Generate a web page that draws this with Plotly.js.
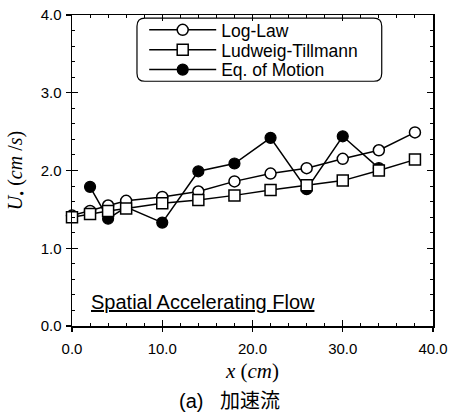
<!DOCTYPE html>
<html>
<head>
<meta charset="utf-8">
<script src="https://cdn.plot.ly/plotly-3.0.1.min.js"></script>
<style>
  html, body { margin: 0; padding: 0; background: #fff; }
  #chart { width: 451px; height: 416px; }
</style>
</head>
<body>
<div id="chart"></div>
<script>
// Friction velocity U* along the flume, spatially accelerating flow
const xLog = [0, 2, 4, 6, 10, 14, 18, 22, 26, 30, 34, 38];
const uLogLaw = [1.42, 1.48, 1.55, 1.61, 1.66, 1.73, 1.86, 1.96, 2.03, 2.15, 2.26, 2.49];

const xLT = [0, 2, 4, 6, 10, 14, 18, 22, 26, 30, 34, 38];
const uLudweig = [1.40, 1.44, 1.48, 1.51, 1.58, 1.62, 1.68, 1.75, 1.81, 1.87, 2.00, 2.14];

const xEq = [2, 4, 6, 10, 14, 18, 22, 26, 30, 34];
const uEqMotion = [1.79, 1.38, 1.53, 1.33, 1.99, 2.09, 2.42, 1.76, 2.44, 2.03];

const xTicks = [0, 10, 20, 30, 40];
const xTickText = ['0.0', '10.0', '20.0', '30.0', '40.0'];
const yTicks = [0, 1, 2, 3, 4];
const yTickText = ['0.0', '1.0', '2.0', '3.0', '4.0'];

const sans = 'Liberation Sans, Arial, sans-serif';
const serif = 'Liberation Serif, Times New Roman, serif';

const lineStyle = { color: '#000', width: 1.5 };

const traces = [
  {
    name: 'Eq. of Motion', x: xEq, y: uEqMotion, mode: 'lines+markers',
    line: lineStyle, legend: 'legend3', cliponaxis: false,
    marker: { symbol: 'circle', size: 11, color: '#000', line: { color: '#000', width: 1.2 } }
  },
  {
    name: 'Log-Law', x: xLog, y: uLogLaw, mode: 'lines+markers',
    line: lineStyle, legend: 'legend', cliponaxis: false,
    marker: { symbol: 'circle', size: 11, color: '#fff', line: { color: '#000', width: 1.5 } }
  },
  {
    name: 'Ludweig-Tillmann', x: xLT, y: uLudweig, mode: 'lines+markers',
    line: lineStyle, legend: 'legend2', cliponaxis: false,
    marker: { symbol: 'square', size: 11, color: '#fff', line: { color: '#000', width: 1.5 } }
  },
  // empty trace that carries the outer half of the crossing major ticks
  { x: [], y: [], xaxis: 'x2', yaxis: 'y2', showlegend: false, hoverinfo: 'skip' }
];

// one legend per row so the rows sit at fixed heights inside the frame
function legendRow(yPaper) {
  return {
    x: 0.200, y: yPaper, xanchor: 'left', yanchor: 'middle',
    bgcolor: 'rgba(0,0,0,0)', borderwidth: 0,
    font: { family: sans, size: 17.5, color: '#000' },
    itemwidth: 67
  };
}

// rounded legend frame, in paper coordinates
const L = 0.180, R = 0.858, T = 0.990, B = 0.787;
const rx = 0.022, ry = 0.026;
const framePath =
  `M${L + rx},${T} L${R - rx},${T} Q${R},${T} ${R},${T - ry} ` +
  `L${R},${B + ry} Q${R},${B} ${R - rx},${B} L${L + rx},${B} ` +
  `Q${L},${B} ${L},${B + ry} L${L},${T - ry} Q${L},${T} ${L + rx},${T} Z`;

const layout = {
  width: 451, height: 416,
  margin: { l: 72, r: 18, t: 13, b: 90 },
  paper_bgcolor: '#fff', plot_bgcolor: '#fff',
  font: { family: sans, color: '#000', size: 15 },
  showlegend: true,
  legend: legendRow(0.952),
  legend2: legendRow(0.888),
  legend3: legendRow(0.824),
  xaxis: {
    range: [0, 40], tickvals: xTicks, ticktext: xTickText,
    showgrid: false, zeroline: false,
    showline: true, linecolor: '#000', linewidth: 1.5, mirror: 'ticks',
    ticks: 'inside', ticklen: 6, tickwidth: 1.2, tickcolor: '#000',
    minor: { dtick: 2, ticks: 'inside', ticklen: 3, tickwidth: 1, tickcolor: '#000', showgrid: false },
    tickfont: { family: sans, size: 15 },
    ticklabelstandoff: 8,
    title: { text: '<i>x</i> (<i>cm</i>)', font: { family: serif, size: 21 }, standoff: 8 }
  },
  yaxis: {
    range: [0, 4], tickvals: yTicks, ticktext: yTickText,
    showgrid: false, zeroline: false,
    showline: true, linecolor: '#000', linewidth: 1.5, mirror: 'ticks',
    ticks: 'inside', ticklen: 6, tickwidth: 1.2, tickcolor: '#000',
    minor: { dtick: 0.2, ticks: 'inside', ticklen: 3, tickwidth: 1, tickcolor: '#000', showgrid: false },
    tickfont: { family: sans, size: 15 },
    ticklabelstandoff: 6,
    title: { text: '<i>U</i><sub>•</sub> (<i>cm</i> /<i>s</i>)', font: { family: serif, size: 20 }, standoff: 12 }
  },
  xaxis2: {
    overlaying: 'x', anchor: 'y2', range: [0, 40], tickvals: xTicks,
    showticklabels: false, showgrid: false, zeroline: false, showline: false,
    ticks: 'outside', ticklen: 5, tickwidth: 1.2, tickcolor: '#000'
  },
  yaxis2: {
    overlaying: 'y', anchor: 'x2', range: [0, 4], tickvals: yTicks,
    showticklabels: false, showgrid: false, zeroline: false, showline: false,
    ticks: 'outside', ticklen: 5, tickwidth: 1.2, tickcolor: '#000'
  },
  shapes: [
    { type: 'path', xref: 'paper', yref: 'paper', path: framePath,
      line: { color: '#000', width: 1.2 }, fillcolor: 'rgba(0,0,0,0)' }
  ],
  annotations: [
    {
      text: 'Spatial Accelerating Flow', xref: 'x', yref: 'y', x: 1.9, y: 0.31,
      xanchor: 'left', yanchor: 'middle', showarrow: false,
      font: { family: sans, size: 20, color: '#000', lineposition: 'under' }
    },
    {
      text: '(a)   加速流', xref: 'paper', yref: 'paper', x: 0.292, y: -0.24,
      xanchor: 'left', yanchor: 'middle', showarrow: false,
      font: { family: 'Liberation Sans, Noto Sans CJK JP, sans-serif', size: 20, color: '#000' }
    }
  ]
};

Plotly.newPlot('chart', traces, layout, { displayModeBar: false, staticPlot: true });
</script>
</body>
</html>
